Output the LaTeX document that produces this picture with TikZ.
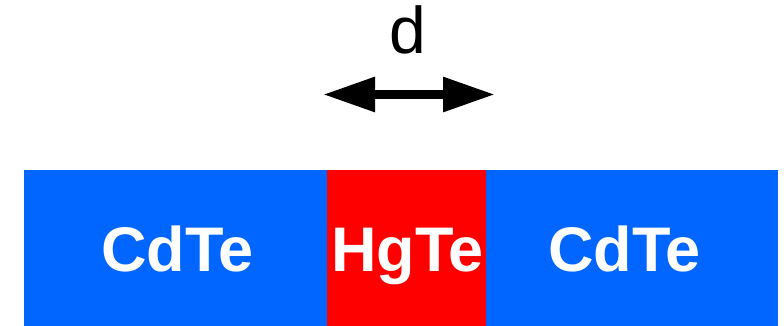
\documentclass[tikz,border=0pt]{standalone}
\usepackage{fontspec}
\setmainfont{Liberation Sans}
\usetikzlibrary{arrows.meta}
\definecolor{layerblue}{RGB}{0,102,255}
\definecolor{layerred}{RGB}{255,0,0}
\begin{document}
\begin{tikzpicture}[x=1pt,y=-1pt,
  layer/.style={draw=none,minimum height=156pt,inner sep=0pt,outer sep=0pt},
  layertext/.style={text=white,font=\fontsize{63}{63}\selectfont\bfseries,anchor=base,inner sep=0pt},
  widtharrow/.style={line width=9pt,{Triangle[length=52pt,width=33pt]}-{Triangle[length=52pt,width=33pt]}}
]
  \useasboundingbox (0,0) rectangle (784,326);
  % quantum well stack
  \node[layer,fill=layerblue,minimum width=303.5pt] (barrierL) at (175.25,248) {};
  \node[layer,fill=layerred,minimum width=159pt] (well) at (406.5,248) {};
  \node[layer,fill=layerblue,minimum width=291.5pt] (barrierR) at (631.75,248) {};
  \node[layertext] (tL) at (177.5,271.5) {CdTe};
  \node[layertext] (tW) at (407.5,271) {HgTe};
  \node[layertext] (tR) at (624.5,271.5) {CdTe};
  % well width
  \coordinate (dL) at (323,94.5);
  \coordinate (dR) at (495,94.5);
  \draw[widtharrow] (dL) -- (dR);
  \node[font=\fontsize{66}{66}\selectfont,anchor=base,inner sep=0pt] (dlabel) at (408,54) {d};
\end{tikzpicture}
\end{document}
